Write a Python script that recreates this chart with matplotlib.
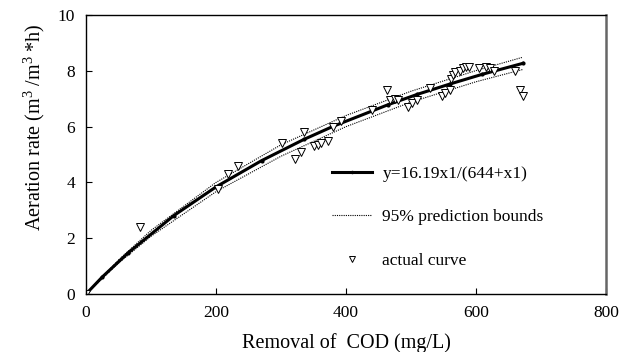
import numpy as np
import matplotlib
matplotlib.use("Agg")
import matplotlib.pyplot as plt

plt.rcParams['font.family'] = ['Liberation Serif', 'DejaVu Serif']
plt.rcParams['mathtext.fontset'] = 'custom'
plt.rcParams['mathtext.rm'] = 'Liberation Serif'

# measured points (removal of COD vs aeration rate)
cod_actual = [0, 83, 203, 218, 233, 302, 322, 330, 335, 350, 357, 362, 372, 380, 393,
              440, 463, 468, 475, 480, 495, 502, 510, 530, 548, 553, 560, 562, 565,
              568, 575, 580, 585, 590, 605, 615, 622, 628, 660, 668, 672]
air_actual = [0, 2.4, 3.75, 4.3, 4.6, 5.4, 4.85, 5.1, 5.8, 5.3, 5.35, 5.4, 5.5, 6.0, 6.2,
              6.6, 7.3, 6.95, 7.0, 6.95, 6.7, 6.85, 6.95, 7.4, 7.1, 7.2, 7.3, 7.7, 7.85,
              7.95, 8.0, 8.1, 8.15, 8.15, 8.1, 8.15, 8.1, 8.0, 8.0, 7.3, 7.1]

# fitted curve y=16.19x1/(644+x1)
cod_fit = [0, 25, 65, 135, 200, 270, 335, 380, 465, 510, 560, 610, 672]
air_fit = [0, 0.61, 1.48, 2.81, 3.84, 4.78, 5.54, 6.01, 6.79, 7.16, 7.53, 7.88, 8.27]

# 95% prediction bounds
cod_bound = [0, 50, 100, 200, 300, 400, 500, 600, 672]
air_upper = [0, 1.22, 2.28, 4.0, 5.35, 6.40, 7.27, 8.01, 8.49]
air_lower = [0, 1.11, 2.07, 3.67, 4.94, 6.00, 6.88, 7.61, 8.05]

fig = plt.figure(figsize=(6.24, 3.52), dpi=100)
ax = fig.add_axes([0.138, 0.165, 0.833, 0.792])

ax.plot(cod_fit, air_fit, color='black', lw=2.2, marker='o', ms=2, label='y=16.19x1/(644+x1)')
ax.plot(cod_bound, air_upper, color='black', lw=0.8, ls=(0, (1, 1)), label='95% prediction bounds')
ax.plot(cod_bound, air_lower, color='black', lw=0.8, ls=(0, (1, 1)))
ax.plot(cod_actual, air_actual, ls='none', marker='v', ms=5.5, mfc='white', mec='black', mew=0.7,
        label='actual curve')

ax.set_xlim(0, 800)
ax.set_ylim(0, 10)
ax.set_xticks([0, 200, 400, 600, 800])
ax.set_yticks([0, 2, 4, 6, 8, 10])
ax.tick_params(direction='in', labelsize=12.5, length=4, width=0.8)
ax.tick_params(axis='x', pad=8)
ax.tick_params(axis='y', pad=8)
ax.set_xlabel('Removal of  COD (mg/L)', fontsize=14.5, labelpad=9)
ax.set_ylabel('Aeration rate (m$^3$ /m$^3$ *h)', fontsize=14.5)
ax.yaxis.set_label_coords(-0.076, 0.6)

for s in ['left', 'bottom', 'top']:
    ax.spines[s].set_linewidth(1.0)
ax.spines['right'].set_color('#666666')
ax.spines['right'].set_linewidth(1.8)

ax.legend(loc='upper left', bbox_to_anchor=(332 / 624, 1 - 166 / 352),
          bbox_transform=fig.transFigure, frameon=False, fontsize=12.5,
          handlelength=2.3, labelspacing=1.56, handletextpad=0.6,
          borderpad=0, borderaxespad=0, markerscale=0.75)

plt.savefig('out.png', dpi=100)
